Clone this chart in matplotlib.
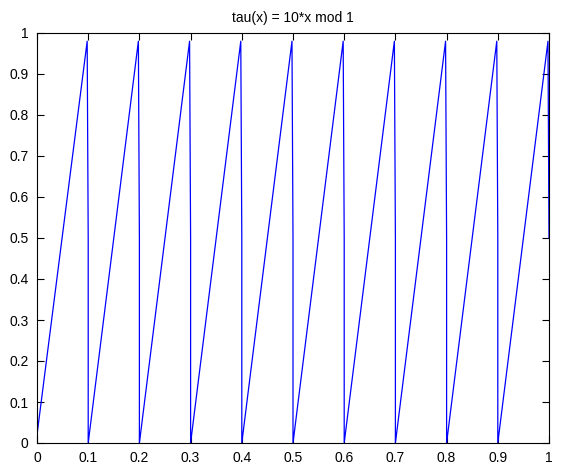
import matplotlib
matplotlib.use("Agg")
import matplotlib.pyplot as plt

# points: each tooth rises from 0 to ~0.98,
# then drops at the jump, with a kink at 0.5
x_pts = [0.0, 0.098, 0.1,
         0.1, 0.198, 0.2,
         0.2, 0.298, 0.3,
         0.3, 0.398, 0.4,
         0.4, 0.498, 0.5,
         0.5, 0.598, 0.6,
         0.6, 0.698, 0.7,
         0.7, 0.798, 0.8,
         0.8, 0.898, 0.9,
         0.9, 0.998, 1.0]
y_pts = [0.02, 0.98, 0.5,
         0.0, 0.98, 0.5,
         0.0, 0.98, 0.5,
         0.0, 0.98, 0.5,
         0.0, 0.98, 0.5,
         0.0, 0.98, 0.5,
         0.0, 0.98, 0.5,
         0.0, 0.98, 0.5,
         0.0, 0.98, 0.5,
         0.0, 0.98, 0.5]

xticks = [0, 0.1, 0.2, 0.3, 0.4, 0.5, 0.6, 0.7, 0.8, 0.9, 1]
yticks = [0, 0.1, 0.2, 0.3, 0.4, 0.5, 0.6, 0.7, 0.8, 0.9, 1]
tick_labels = ["0", "0.1", "0.2", "0.3", "0.4", "0.5", "0.6", "0.7", "0.8", "0.9", "1"]

plt.rcParams["font.family"] = ["Liberation Sans", "DejaVu Sans"]

fig = plt.figure(figsize=(5.69, 4.73), dpi=100)
ax = fig.add_axes([37/569, 1 - 443/473, (549 - 37)/569, (443 - 33)/473])

ax.plot(x_pts, y_pts, color="#0000ff", linewidth=0.9)

ax.set_xlim(0, 1)
ax.set_ylim(0, 1)
ax.set_xticks(xticks)
ax.set_yticks(yticks)
ax.set_xticklabels(tick_labels, fontsize=10)
ax.set_yticklabels(tick_labels, fontsize=10)
ax.tick_params(direction="in", length=5, width=0.8, top=True, right=True, pad=6)
for s in ax.spines.values():
    s.set_linewidth(0.8)

ax.set_title("tau(x) = 10*x mod 1", fontsize=10, pad=8)

fig.savefig("out.png", dpi=100)
